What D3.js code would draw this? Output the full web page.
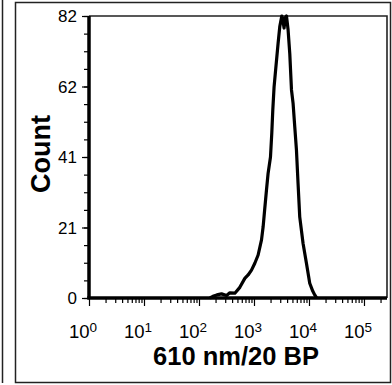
<!DOCTYPE html>
<html>
<head>
<meta charset="utf-8">
<script src="https://cdn.jsdelivr.net/npm/d3@7"></script>
<style>
  body { margin: 0; background: #fff; }
  svg { display: block; font-family: "Liberation Sans", Arial, sans-serif; }
  .tick line { stroke: #000; stroke-width: 1.2px; }
</style>
</head>
<body>
<div id="chart"></div>
<script>
// Histogram: fluorescence intensity vs event count
const intensity = [158, 179, 211, 257, 317, 364, 449, 553, 681, 782, 901, 1035, 1189, 1370,
  1466, 1572, 1687, 1804, 1995, 2108, 2198, 2319, 2489, 2742, 2944, 3201, 3337, 3524,
  3707, 3896, 4168, 4477, 4807, 5139, 5510, 5918, 6328, 6788, 7797, 8990, 10320, 11700,
  12730, 13840];
const counts = [0, 0.5, 0.9, 1.2, 0.7, 1.5, 1.4, 3.1, 5.7, 6.7, 8.1, 10.1, 12.5, 16.9,
  20.7, 26.1, 31.4, 36.2, 41, 48, 54.7, 61.4, 66.8, 74, 78.9, 82, 81, 78.5,
  81.5, 82, 78, 71, 60.5, 56.6, 49.8, 43, 33.3, 23.6, 15.9, 10.1, 4.3, 2.0,
  0.9, 0];

// Axis ticks
const yTickValues = [0, 20.5, 41, 61.5, 82];
const yTickLabels = ["0", "21", "41", "62", "82"];
const xDecades = [0, 1, 2, 3, 4, 5];
const xDomain = [1, 262144];
const yDomain = [0, 82];
const xLabel = "610 nm/20 BP";
const yLabel = "Count";

const width = 392, height = 385;
const margin = {top: 16, right: 5, bottom: 87, left: 89};
const plotW = width - margin.left - margin.right;
const plotH = height - margin.top - margin.bottom;

const svg = d3.select("#chart").append("svg")
    .attr("width", width)
    .attr("height", height);

// panel frames
svg.append("line")
    .attr("x1", 2.5).attr("x2", 2.5)
    .attr("y1", 0).attr("y2", 383)
    .attr("stroke", "#222").attr("stroke-width", 1.5);
svg.append("rect")
    .attr("x", 15.5).attr("y", 2.5)
    .attr("width", 375).attr("height", 380)
    .attr("fill", "none")
    .attr("stroke", "#222").attr("stroke-width", 1.5);

const g = svg.append("g")
    .attr("transform", `translate(${margin.left},${margin.top})`);

const x = d3.scaleLog().domain(xDomain).range([0, plotW]);
const y = d3.scaleLinear().domain(yDomain).range([plotH, 0]);

// top and right border of the plot
g.append("path")
    .attr("d", `M0,0H${plotW}V${plotH}`)
    .attr("fill", "none")
    .attr("stroke", "#222")
    .attr("stroke-width", 1.6);

// histogram line
const line = d3.line()
    .x((d, i) => x(intensity[i]))
    .y(d => y(d));

g.append("path")
    .datum(counts)
    .attr("d", line)
    .attr("fill", "none")
    .attr("stroke", "#000")
    .attr("stroke-width", 3.2)
    .attr("stroke-linejoin", "round");

// y axis: minor then major ticks
const yMinor = d3.range(0, 17).map(i => i * 82 / 16);
g.append("g")
    .call(d3.axisLeft(y).tickValues(yMinor).tickSize(5).tickSizeOuter(0).tickFormat(""))
    .call(a => a.select(".domain").remove());
g.append("g")
    .call(d3.axisLeft(y).tickValues(yTickValues).tickSize(7).tickSizeOuter(0).tickFormat(""))
    .call(a => a.select(".domain").remove());

g.selectAll(".ylab")
    .data(yTickValues)
    .enter().append("text")
    .attr("class", "ylab")
    .attr("x", -12)
    .attr("y", d => y(d))
    .attr("dy", "0.36em")
    .attr("text-anchor", "end")
    .style("font-size", "17px")
    .text((d, i) => yTickLabels[i]);

// x axis: minor then major ticks
const xMinor = [];
xDecades.forEach(p => {
  for (let k = 2; k <= 9; k++) {
    const v = k * Math.pow(10, p);
    if (v <= xDomain[1]) xMinor.push(v);
  }
});
const xMajor = xDecades.map(p => Math.pow(10, p));

g.append("g")
    .attr("transform", `translate(0,${plotH})`)
    .call(d3.axisBottom(x).tickValues(xMinor).tickSize(5).tickSizeOuter(0).tickFormat(""))
    .call(a => a.select(".domain").remove());
g.append("g")
    .attr("transform", `translate(0,${plotH})`)
    .call(d3.axisBottom(x).tickValues(xMajor).tickSize(8).tickSizeOuter(0).tickFormat(""))
    .call(a => a.select(".domain").remove());

const xl = g.selectAll(".xlab")
    .data(xDecades)
    .enter().append("text")
    .attr("class", "xlab")
    .attr("x", d => x(Math.pow(10, d)) - 6)
    .attr("y", plotH + 40)
    .attr("text-anchor", "middle")
    .style("font-size", "18.5px");
xl.append("tspan").text("10");
xl.append("tspan")
    .attr("dy", "-0.45em")
    .style("font-size", "13.5px")
    .text(d => d);

// thick axis lines
g.append("line")
    .attr("x1", 0).attr("x2", 0)
    .attr("y1", 0).attr("y2", plotH)
    .attr("stroke", "#000").attr("stroke-width", 3.5);
g.append("line")
    .attr("x1", -1.75).attr("x2", plotW)
    .attr("y1", plotH).attr("y2", plotH)
    .attr("stroke", "#000").attr("stroke-width", 3.5);

// axis titles
svg.append("text")
    .attr("x", 236)
    .attr("y", 365)
    .attr("text-anchor", "middle")
    .style("font-size", "25.5px")
    .style("font-weight", "bold")
    .text(xLabel);

svg.append("text")
    .attr("transform", "translate(50,154) rotate(-90)")
    .attr("text-anchor", "middle")
    .style("font-size", "27px")
    .style("font-weight", "bold")
    .text(yLabel);
</script>
</body>
</html>
